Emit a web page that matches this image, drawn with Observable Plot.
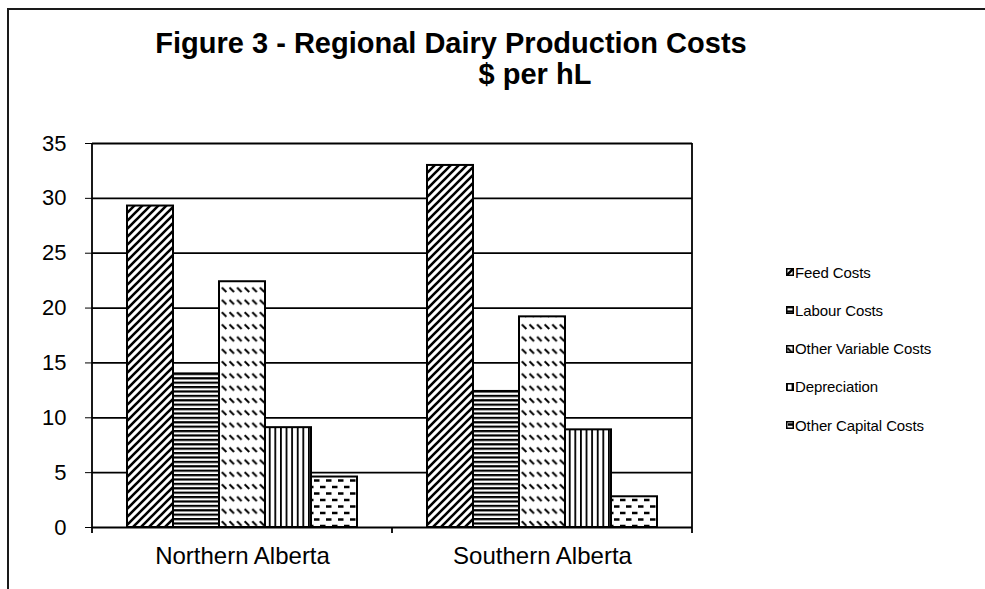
<!DOCTYPE html>
<html>
<head>
<meta charset="utf-8">
<script src="https://cdn.jsdelivr.net/npm/d3@7"></script>
<script src="https://cdn.jsdelivr.net/npm/@observablehq/plot@0.6"></script>
<style>
  html, body { margin: 0; padding: 0; background: white; }
  #root { position: relative; width: 985px; height: 589px; overflow: hidden; background: white; font-family: "Liberation Sans", Arial, sans-serif; }
  #frame { position: absolute; left: 7px; top: 8px; width: 1000px; height: 600px; border-left: 2px solid #1a1a1a; border-top: 2px solid #1a1a1a; }
  #titlebox { position: relative; height: 100px; }
  .tline { position: absolute; font-weight: bold; font-size: 29px; line-height: 29px; white-space: nowrap; transform: translateX(-50%); color: black; }
  #legend { position: absolute; left: 786px; top: 0; }
  .litem { position: absolute; left: 0; height: 18px; display: flex; align-items: center; white-space: nowrap; font-size: 15px; color: black; letter-spacing: -0.1px; }
  .litem svg { margin-right: 1px; }
</style>
</head>
<body>
<div id="root">
  <div id="frame"></div>
  <div id="titlebox">
    <div class="tline" id="t1" style="left:451px; top:29px;">Figure 3 - Regional Dairy Production Costs</div>
    <div class="tline" id="t2" style="left:535px; top:60px;">$ per hL</div>
  </div>
  <div id="chart"></div>
  <div id="legend"></div>
</div>
<script>
const regions = ["Northern Alberta", "Southern Alberta"];
const series = ["Feed Costs", "Labour Costs", "Other Variable Costs", "Depreciation", "Other Capital Costs"];
const northernValues = [29.3, 14.0, 22.4, 9.1, 4.6];
const southernValues = [33.0, 12.4, 19.2, 8.9, 2.8];
const yTicks = [0, 5, 10, 15, 20, 25, 30, 35];

const valuesByRegion = [northernValues, southernValues];
const data = regions.flatMap((r, ri) => series.map((s, si) => ({region: r, series: s, value: valuesByRegion[ri][si]})));
const patternIds = series.map((_, i) => `pat${i}`);

const plot = Plot.plot({
  width: 985,
  height: 489,
  marginTop: 43,
  marginBottom: 62,
  marginLeft: 92,
  marginRight: 293,
  style: {fontFamily: "'Liberation Sans', Arial, sans-serif", fontSize: "22px", color: "black", background: "transparent", overflow: "visible"},
  fx: {domain: regions, padding: 0, axis: "bottom", tickSize: 0, tickPadding: 19, label: null},
  x: {domain: series, paddingInner: 0, paddingOuter: 0.73, axis: null},
  y: {domain: [0, 35], ticks: yTicks, tickSize: 7, tickPadding: 19, label: null},
  color: {type: "ordinal", domain: series, range: patternIds.map(id => `url(#${id})`)},
  marks: [
    Plot.ruleY(yTicks, {stroke: "black", strokeWidth: 1.8}),
    Plot.barY(data, {fx: "region", x: "series", y: "value", fill: "series", stroke: "black", strokeWidth: 2})
  ]
});

// pattern definitions
const svg = d3.select(plot);
const defs = svg.insert("defs", ":first-child");
function pat(id, w, h) {
  const p = defs.append("pattern").attr("id", id).attr("patternUnits", "userSpaceOnUse").attr("width", w).attr("height", h);
  p.append("rect").attr("width", w).attr("height", h).attr("fill", "white");
  return p;
}
// Feed: forward diagonal hatch
{
  const p = pat(patternIds[0], 8, 8);
  p.append("path").attr("d", "M-2,10 L10,-2 M-2,2 L2,-2 M6,10 L10,6").attr("stroke", "black").attr("stroke-width", 2.6);
}
// Labour: horizontal lines
{
  const p = pat(patternIds[1], 4, 4.4);
  p.append("rect").attr("x", 0).attr("y", 0).attr("width", 4).attr("height", 2.2).attr("fill", "black");
}
// Other variable: dashed downward diagonals
{
  const p = pat(patternIds[2], 7.6, 12.3);
  p.append("path").attr("d", "M1.5,3 L6,7.5").attr("stroke", "black").attr("stroke-width", 2);
}
// Depreciation: vertical lines
{
  const p = pat(patternIds[3], 5.6, 4);
  p.append("rect").attr("x", 0).attr("y", 0).attr("width", 1.8).attr("height", 4).attr("fill", "black");
}
// Other capital: staggered horizontal dashes
{
  const p = pat(patternIds[4], 12, 13);
  p.append("path").attr("d", "M2,3.5 L7.5,3.5 M8,10 L13.5,10 M-4,10 L1.5,10").attr("stroke", "black").attr("stroke-width", 2.4);
}

// larger category labels
svg.selectAll("text").filter(function() { return regions.includes(this.textContent); }).attr("font-size", 24);

// plot-area border and band-boundary ticks derived from the scales
const fx = plot.scale("fx");
const y = plot.scale("y");
const left = fx.apply(regions[0]);
const mid = fx.apply(regions[1]);
const right = mid + fx.bandwidth;
const y0 = y.apply(0), yTop = y.apply(d3.max(yTicks));
const g = svg.append("g").attr("stroke", "black").attr("stroke-width", 1.8);
g.append("line").attr("x1", left).attr("x2", left).attr("y1", yTop).attr("y2", y0 + 6);
g.append("line").attr("x1", right).attr("x2", right).attr("y1", yTop).attr("y2", y0 + 6);
g.append("line").attr("x1", mid).attr("x2", mid).attr("y1", y0).attr("y2", y0 + 6);

document.getElementById("chart").appendChild(plot);

// legend
const legend = d3.select("#legend");
series.forEach((s, i) => {
  const item = legend.append("div").attr("class", "litem").style("top", `${263 + i * 38.3}px`);
  const sv = item.append("svg").attr("width", 8).attr("height", 8);
  sv.append("rect").attr("x", 0.75).attr("y", 0.75).attr("width", 6.5).attr("height", 6.5).attr("fill", `url(#${patternIds[i]})`).attr("stroke", "black").attr("stroke-width", 1.5);
  item.append("span").text(s);
});
</script>
</body>
</html>
